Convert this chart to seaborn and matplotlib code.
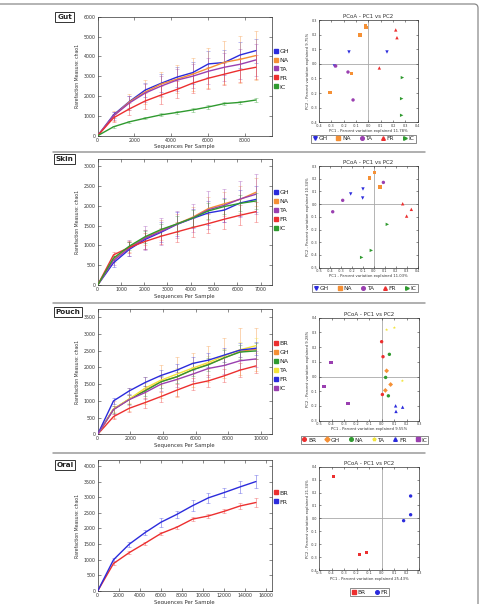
import numpy as np
import pandas as pd
import matplotlib
matplotlib.use('Agg')
import matplotlib.pyplot as plt
import seaborn as sns
from matplotlib.lines import Line2D
from matplotlib.patches import FancyBboxPatch
from matplotlib.ticker import FixedLocator, FormatStrFormatter

# ---------------- DATA ----------------
# Gut rarefaction
gut_depth = [0, 860, 1720, 2580, 3440, 4300, 5160, 6020, 6880, 7740, 8600]
gut_groups = ['GH', 'NA', 'TA', 'FR', 'IC']
gut_GH = [0, 1050, 1720, 2300, 2640, 2950, 3180, 3620, 3690, 4070, 4290]
gut_NA = [0, 1000, 1700, 2200, 2600, 2850, 3100, 3400, 3700, 3850, 4040]
gut_TA = [0, 1000, 1650, 2150, 2500, 2800, 3000, 3250, 3450, 3600, 3820]
gut_FR = [0, 900, 1350, 1750, 2050, 2330, 2650, 2900, 3100, 3300, 3450]
gut_IC = [0, 450, 700, 880, 1050, 1170, 1300, 1450, 1620, 1680, 1800]
gut_err_GH = [0, 150, 300, 350, 450, 500, 550, 650, 650, 650, 600]
gut_err_NA = [0, 250, 420, 600, 630, 700, 840, 1000, 1100, 1200, 1250]
gut_err_TA = [0, 200, 350, 450, 500, 550, 600, 650, 700, 750, 800]
gut_err_FR = [0, 200, 300, 400, 450, 450, 500, 550, 550, 600, 600]
gut_err_IC = [0, 50, 60, 60, 70, 70, 80, 80, 80, 80, 90]

# Skin rarefaction
skin_depth = [0, 680, 1360, 2040, 2720, 3400, 4080, 4760, 5440, 6120, 6800]
skin_groups = ['GH', 'NA', 'TA', 'FR', 'IC']
skin_GH = [0, 560, 900, 1150, 1330, 1530, 1680, 1820, 1890, 2070, 2160]
skin_NA = [0, 650, 960, 1200, 1380, 1540, 1710, 1930, 2050, 2160, 2340]
skin_TA = [0, 620, 930, 1180, 1350, 1530, 1690, 1900, 2010, 2170, 2290]
skin_FR = [0, 760, 950, 1100, 1230, 1340, 1450, 1550, 1660, 1760, 1850]
skin_IC = [0, 680, 980, 1220, 1400, 1540, 1690, 1870, 1980, 2060, 2120]
skin_err_GH = [0, 100, 180, 250, 250, 300, 250, 300, 300, 330, 330]
skin_err_NA = [0, 80, 120, 200, 250, 250, 250, 300, 300, 350, 350]
skin_err_TA = [0, 120, 200, 300, 330, 350, 350, 480, 420, 460, 500]
skin_err_FR = [0, 80, 150, 200, 200, 250, 250, 250, 250, 250, 250]
skin_err_IC = [0, 60, 100, 150, 150, 200, 200, 200, 200, 200, 200]

# Pouch rarefaction
pouch_depth = [0, 970, 1940, 2910, 3880, 4850, 5820, 6790, 7760, 8730, 9700]
pouch_groups = ['BR', 'GH', 'NA', 'TA', 'FR', 'IC']
pouch_BR = [0, 530, 780, 950, 1130, 1320, 1500, 1600, 1750, 1920, 2045]
pouch_GH = [0, 750, 1050, 1320, 1580, 1720, 1930, 2100, 2280, 2480, 2545]
pouch_NA = [0, 750, 1050, 1300, 1570, 1720, 1930, 2080, 2290, 2460, 2495]
pouch_TA = [0, 760, 1060, 1380, 1620, 1800, 1980, 2150, 2350, 2530, 2650]
pouch_FR = [0, 1000, 1300, 1550, 1760, 1920, 2120, 2220, 2370, 2520, 2575]
pouch_IC = [0, 740, 1040, 1250, 1500, 1640, 1800, 1970, 2060, 2200, 2255]
pouch_err_BR = [0, 80, 120, 150, 150, 180, 180, 180, 200, 200, 200]
pouch_err_GH = [0, 250, 350, 400, 500, 600, 500, 550, 600, 700, 650]
pouch_err_NA = [0, 100, 130, 150, 180, 200, 200, 200, 220, 220, 230]
pouch_err_TA = [0, 100, 120, 150, 150, 180, 180, 200, 200, 220, 220]
pouch_err_FR = [0, 80, 100, 150, 150, 180, 200, 200, 200, 200, 200]
pouch_err_IC = [0, 120, 150, 200, 200, 220, 220, 250, 250, 250, 250]

# Oral rarefaction
oral_depth = [0, 1500, 3000, 4500, 6000, 7500, 9000, 10500, 12000, 13500, 15000]
oral_groups = ['BR', 'FR']
oral_BR = [0, 880, 1230, 1530, 1840, 2040, 2300, 2400, 2550, 2720, 2830]
oral_FR = [0, 1000, 1500, 1870, 2200, 2450, 2730, 2980, 3150, 3330, 3500]
oral_err_BR = [0, 40, 50, 50, 50, 50, 70, 50, 60, 100, 130]
oral_err_FR = [0, 50, 80, 90, 150, 110, 180, 150, 150, 200, 200]

# PCoA scores (PC1, PC2)
gut_pc1 = {'GH': [-0.157, 0.151, -0.275], 'NA': [-0.024, -0.020, -0.068, -0.135, -0.311],
           'TA': [-0.165, -0.124, -0.265], 'FR': [0.222, 0.232, 0.089], 'IC': [0.276, 0.270, 0.270]}
gut_pc2 = {'GH': [0.081, 0.081, -0.015], 'NA': [0.259, 0.250, 0.197, -0.067, -0.197],
           'TA': [-0.056, -0.247, -0.015], 'FR': [0.232, 0.179, -0.028], 'IC': [-0.094, -0.238, -0.352]}
skin_pc1 = {'GH': [-0.211, -0.099, -0.102], 'NA': [0.008, -0.038, 0.056],
            'TA': [0.087, -0.284, -0.375], 'FR': [0.263, 0.342, 0.299], 'IC': [0.123, -0.023, -0.111]}
skin_pc2 = {'GH': [0.080, 0.119, 0.048], 'NA': [0.247, 0.206, 0.135],
            'TA': [0.171, 0.030, -0.060], 'FR': [0.003, -0.041, -0.094], 'IC': [-0.159, -0.364, -0.419]}
pouch_pc1 = {'BR': [0.001, 0.012, 0.007], 'GH': [0.041, 0.073, 0.031], 'NA': [0.063, 0.033, 0.055],
             'TA': [0.041, 0.103, 0.167], 'FR': [0.113, 0.116, 0.169], 'IC': [-0.404, -0.460, -0.268]}
pouch_pc2 = {'BR': [0.237, 0.135, -0.122], 'GH': [0.039, -0.054, -0.094], 'NA': [0.151, -0.006, -0.131],
             'TA': [0.318, 0.332, -0.029], 'FR': [-0.199, -0.237, -0.208], 'IC': [0.096, -0.067, -0.185]}
oral_pc1 = {'BR': [-0.385, -0.177, -0.121], 'FR': [0.233, 0.233, 0.177]}
oral_pc2 = {'BR': [0.323, -0.279, -0.263], 'FR': [0.173, 0.028, -0.018]}

pc_labels = {
    'Gut': ('PC1 - Percent variation explained 11.78%', 'PC2 - Percent variation explained 9.75%'),
    'Skin': ('PC1 - Percent variation explained 11.03%', 'PC2 - Percent variation explained 10.34%'),
    'Pouch': ('PC1 - Percent variation explained 9.55%', 'PC2 - Percent variation explained 9.28%'),
    'Oral': ('PC1 - Percent variation explained 25.43%', 'PC2 - Percent variation explained 21.34%'),
}

# ---------------- STYLE ----------------
BLUE = '#2b2bdc'
ORANGE = '#f59035'
PURPLE = '#9a3fb0'
RED = '#ec2f2f'
GREEN = '#2f9a2f'
YELLOW = '#f2e43a'

sns.set_style('ticks')
plt.rcParams['font.family'] = ['DejaVu Sans']

W, H = 479, 604
fig = plt.figure(figsize=(W / 100, H / 100), dpi=100)


def px_axes(l, t, r, b):
    return fig.add_axes([l / W, 1 - b / H, (r - l) / W, (b - t) / H])


def style_axes(ax, labelsize):
    ax.tick_params(direction='in', length=2, width=0.4, labelsize=labelsize, pad=1.5,
                   top=True, right=True, colors='#333333')
    for s in ax.spines.values():
        s.set_linewidth(0.5)
        s.set_color('#333333')


def rarefaction(ax, depth, groups, vals, errs, colors, xmax, ymax, xticks, yticks, leg_y):
    rows = []
    for g in groups:
        for d, v in zip(depth, vals[g]):
            rows.append({'depth': d, 'value': v, 'group': g})
    df = pd.DataFrame(rows)
    for g in groups:
        ax.errorbar(depth[1:], vals[g][1:], yerr=errs[g][1:], fmt='none', ecolor=colors[g],
                    alpha=0.45, elinewidth=0.6, capsize=1.3, capthick=0.5, zorder=1)
    sns.lineplot(data=df, x='depth', y='value', hue='group', hue_order=groups, palette=colors,
                 ax=ax, linewidth=1.0, legend=False, sort=False, zorder=3)
    ax.set_xlim(0, xmax)
    ax.set_ylim(0, ymax)
    ax.xaxis.set_major_locator(FixedLocator(xticks))
    ax.yaxis.set_major_locator(FixedLocator(yticks))
    ax.set_xlabel('Sequences Per Sample', fontsize=3.8, labelpad=1.2, color='#333333')
    ax.set_ylabel('Rarefaction Measure: chao1', fontsize=3.3, labelpad=2.5, color='#333333')
    style_axes(ax, 3.4)
    handles = [Line2D([], [], marker='s', color=colors[g], ls='none', markersize=3.2) for g in groups]
    fig.legend(handles, groups, loc='center left', bbox_to_anchor=(273.5 / W, 1 - leg_y / H),
               frameon=False, fontsize=4.6, handlelength=0.7, handletextpad=0.2,
               labelspacing=0.55, borderpad=0, borderaxespad=0)


def pcoa(ax, pc1, pc2, groups, colors, markers, xlim, ylim, labels, leg_c, ncol):
    rows = []
    for g in groups:
        for a, b in zip(pc1[g], pc2[g]):
            rows.append({'pc1': a, 'pc2': b, 'group': g})
    df = pd.DataFrame(rows)
    ax.axhline(0, color='#a8a8a8', lw=0.6, zorder=0)
    ax.axvline(0, color='#a8a8a8', lw=0.6, zorder=0)
    sns.scatterplot(data=df, x='pc1', y='pc2', hue='group', style='group', hue_order=groups,
                    style_order=groups, palette=colors, markers=markers, s=6, linewidth=0,
                    ax=ax, legend=False, zorder=3)
    ax.set_xlim(*xlim)
    ax.set_ylim(*ylim)
    xt = np.round(np.arange(xlim[0], xlim[1] + 1e-9, 0.1), 1) + 0.0
    yt = np.round(np.arange(ylim[0], ylim[1] + 1e-9, 0.1), 1) + 0.0
    ax.xaxis.set_major_locator(FixedLocator(xt))
    ax.yaxis.set_major_locator(FixedLocator(yt))
    ax.xaxis.set_major_formatter(FormatStrFormatter('%.1f'))
    ax.yaxis.set_major_formatter(FormatStrFormatter('%.1f'))
    ax.set_title('PCoA - PC1 vs PC2', fontsize=4.0, pad=1.5, color='#333333')
    ax.set_xlabel(labels[0], fontsize=2.7, labelpad=1.0, color='#333333')
    ax.set_ylabel(labels[1], fontsize=2.7, labelpad=1.0, color='#333333')
    style_axes(ax, 2.4)
    ax.tick_params(length=1.5, pad=1.0)
    handles = [Line2D([], [], marker=markers[g], color=colors[g], ls='none', markersize=2.6) for g in groups]
    leg = fig.legend(handles, groups, loc='center', bbox_to_anchor=(leg_c[0] / W, 1 - leg_c[1] / H),
                     ncol=ncol, frameon=True, fancybox=False, fontsize=4.2, handlelength=0.8,
                     handletextpad=0.2, columnspacing=1.5, borderpad=0.25, borderaxespad=0)
    leg.get_frame().set_edgecolor('#555555')
    leg.get_frame().set_linewidth(0.6)


def section_label(text, x, y):
    fig.text(x / W, 1 - y / H, text, fontsize=5.2, fontweight='bold', ha='center', va='center',
             color='#222222',
             bbox=dict(boxstyle='square,pad=0.25', fc='white', ec='#333333', lw=0.7))


five_colors = {'GH': BLUE, 'NA': ORANGE, 'TA': PURPLE, 'FR': RED, 'IC': GREEN}
five_markers = {'GH': 'v', 'NA': 's', 'TA': 'o', 'FR': '^', 'IC': '>'}
six_colors = {'BR': RED, 'GH': ORANGE, 'NA': GREEN, 'TA': YELLOW, 'FR': BLUE, 'IC': PURPLE}
six_markers = {'BR': 'o', 'GH': 'D', 'NA': 'o', 'TA': '*', 'FR': '^', 'IC': 's'}
two_colors = {'BR': RED, 'FR': BLUE}
two_markers = {'BR': 's', 'FR': 'o'}

# ---------------- GUT ----------------
ax = px_axes(97.7, 16.7, 271.7, 135.7)
rarefaction(ax, gut_depth, gut_groups,
            {'GH': gut_GH, 'NA': gut_NA, 'TA': gut_TA, 'FR': gut_FR, 'IC': gut_IC},
            {'GH': gut_err_GH, 'NA': gut_err_NA, 'TA': gut_err_TA, 'FR': gut_err_FR, 'IC': gut_err_IC},
            five_colors, 9460, 6000, range(0, 9000, 2000), range(0, 6001, 1000), 69)
ax = px_axes(319, 20, 417.7, 122.3)
pcoa(ax, gut_pc1, gut_pc2, gut_groups, five_colors, five_markers, (-0.4, 0.4), (-0.4, 0.3),
     pc_labels['Gut'], (363.5, 138.5), 5)
section_label('Gut', 64.5, 17)

# ---------------- SKIN ----------------
ax = px_axes(97.7, 159, 271.7, 285)
rarefaction(ax, skin_depth, skin_groups,
            {'GH': skin_GH, 'NA': skin_NA, 'TA': skin_TA, 'FR': skin_FR, 'IC': skin_IC},
            {'GH': skin_err_GH, 'NA': skin_err_NA, 'TA': skin_err_TA, 'FR': skin_err_FR, 'IC': skin_err_IC},
            five_colors, 7480, 3180, range(0, 7001, 1000), range(0, 3001, 500), 210.3)
ax = px_axes(319, 166, 417.7, 267.7)
pcoa(ax, skin_pc1, skin_pc2, skin_groups, five_colors, five_markers, (-0.5, 0.4), (-0.5, 0.3),
     pc_labels['Skin'], (365, 288), 5)
section_label('Skin', 64.5, 159)

# ---------------- POUCH ----------------
ax = px_axes(97.7, 309.3, 271.7, 434.3)
rarefaction(ax, pouch_depth, pouch_groups,
            {'BR': pouch_BR, 'GH': pouch_GH, 'NA': pouch_NA, 'TA': pouch_TA, 'FR': pouch_FR, 'IC': pouch_IC},
            {'BR': pouch_err_BR, 'GH': pouch_err_GH, 'NA': pouch_err_NA, 'TA': pouch_err_TA,
             'FR': pouch_err_FR, 'IC': pouch_err_IC},
            six_colors, 10670, 3740, range(0, 10001, 2000), range(0, 3501, 500), 365.7)
ax = px_axes(319, 317.7, 419, 420.7)
pcoa(ax, pouch_pc1, pouch_pc2, pouch_groups, six_colors, six_markers, (-0.5, 0.3), (-0.3, 0.4),
     pc_labels['Pouch'], (364.5, 440), 6)
section_label('Pouch', 68, 312)

# ---------------- ORAL ----------------
ax = px_axes(97.7, 460, 271.7, 591)
rarefaction(ax, oral_depth, oral_groups, {'BR': oral_BR, 'FR': oral_FR},
            {'BR': oral_err_BR, 'FR': oral_err_FR},
            two_colors, 16500, 4190, range(0, 16001, 2000), range(0, 4001, 500), 497.3)
ax = px_axes(319, 466.7, 419, 570)
pcoa(ax, oral_pc1, oral_pc2, oral_groups, two_colors, two_markers, (-0.5, 0.3), (-0.4, 0.4),
     pc_labels['Oral'], (369.5, 592), 2)
section_label('Oral', 65, 465)

# ---------------- FRAMES ----------------
frame = FancyBboxPatch((-0.2, -1.0), 4.98, 7.0, boxstyle='round,pad=0,rounding_size=0.04',
                       transform=fig.dpi_scale_trans, fc='none', ec='#8a8a8a', lw=0.9)
fig.add_artist(frame)
for yy in (152, 302.7, 453.3):
    fig.add_artist(Line2D([53 / W, 425 / W], [1 - yy / H, 1 - yy / H], transform=fig.transFigure,
                          color='#9a9a9a', lw=1.1))

fig.savefig('out.png', dpi=100)
